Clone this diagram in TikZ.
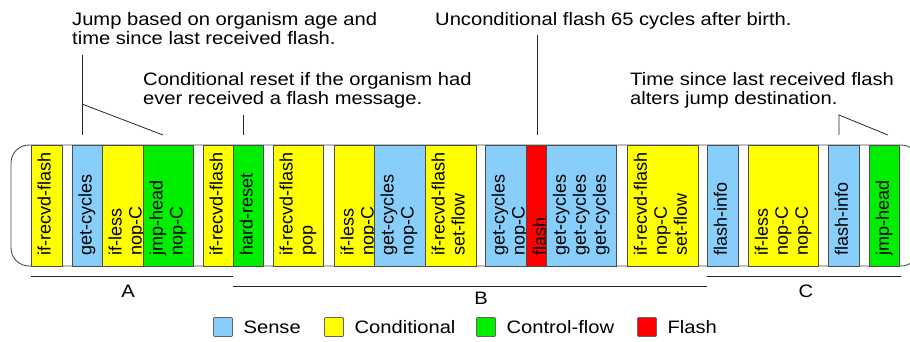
\documentclass[tikz,border=0pt]{standalone}
\usepackage{fontspec}
\setmainfont{Liberation Sans}
\newfontfamily\widesans[FakeStretch=1.12]{Liberation Sans}
\usetikzlibrary{positioning}

\definecolor{sense}{RGB}{135,206,250}
\definecolor{conditional}{RGB}{255,255,0}
\definecolor{controlflow}{RGB}{0,238,0}
\definecolor{flashred}{RGB}{255,0,0}

\begin{document}
\begin{tikzpicture}[x=1pt, y=-1pt,
    instr/.style={draw=black!70, line width=0.9pt, fill=#1, minimum height=121pt,
      inner sep=0pt, outer sep=0pt, anchor=north west},
    instrtext/.style={rotate=90, anchor=north west, inner sep=0pt, align=left,
      font=\fontsize{18}{20}\selectfont},
    note/.style={anchor=north west, inner sep=0pt, align=left,
      font=\widesans\fontsize{18}{19}\selectfont},
    swatch/.style={draw=black!60, line width=0.8pt, fill=#1, minimum size=19pt,
      inner sep=0pt, rounded corners=1pt},
    legend/.style={inner sep=0pt, font=\widesans\fontsize{18}{19}\selectfont},
    callout/.style={black!85, line width=0.8pt}]
  \useasboundingbox (0,0) rectangle (910,341);

  % genome strip
  \draw[black!70, line width=0.9pt, rounded corners=18pt] (11,145) rectangle (919,266);

  \foreach \x/\w/\c/\t [count=\i] in {
      31/31/conditional/{if-recvd-flash},
      72/30/sense/{get-cycles},
      102/41/conditional/{if-less\\nop-C},
      143/50/controlflow/{jmp-head\\nop-C},
      203/30/conditional/{if-recvd-flash},
      233/30/controlflow/{hard-reset},
      273/50/conditional/{if-recvd-flash\\pop},
      334/40/conditional/{if-less\\nop-C},
      374/51/sense/{get-cycles\\nop-C},
      425/51/conditional/{if-recvd-flash\\set-flow},
      485/41/sense/{get-cycles\\nop-C},
      526/20/flashred/{flash},
      546/70/sense/{get-cycles\\get-cycles\\get-cycles},
      627/71/conditional/{if-recvd-flash\\nop-C\\set-flow},
      707/31/sense/{flash-info},
      748/70/conditional/{if-less\\nop-C\\nop-C},
      828/31/sense/{flash-info},
      869/30/controlflow/{jmp-head}} {
    \node[instr=\c, minimum width=\w pt] (i-\i) at (\x,145) {};
    \node[instrtext] (t-\i) at ([xshift=6.5pt, yshift=10pt]i-\i.south west) {\t};
  }

  % callouts
  \node[note] (jump) at (72,12) {Jump based on organism age and\\time since last received flash.};
  \node[note] (reset) at (143,72) {Conditional reset if the organism had\\ever received a flash message.};
  \node[note] (birth) at (435,12) {Unconditional flash 65 cycles after birth.};
  \node[note] (alter) at (630,72) {Time since last received flash\\alters jump destination.};

  \coordinate (jump-a) at (82,55);
  \coordinate (jump-b) at (82,104);
  \coordinate (jump-c) at (82,135);
  \coordinate (jump-d) at (163,135);
  \draw[callout] (jump-a) -- (jump-c);
  \draw[callout] (jump-b) -- (jump-d);

  \coordinate (reset-a) at (243,115);
  \coordinate (reset-b) at (243,135);
  \draw[callout] (reset-a) -- (reset-b);

  \coordinate (birth-a) at (537,35);
  \coordinate (birth-b) at (537,135);
  \draw[callout] (birth-a) -- (birth-b);

  \coordinate (alter-a) at (839,135);
  \coordinate (alter-b) at (839,115);
  \coordinate (alter-c) at (888,135);
  \draw[callout] (alter-a) -- (alter-b) -- (alter-c);

  % groups
  \draw[callout] ([yshift=-10pt]i-1.south west) -- ([yshift=-10pt]i-6.south west);
  \draw[callout] ([yshift=-20pt]i-6.south west) -- ([yshift=-20pt]i-15.south west);
  \draw[callout] ([yshift=-10pt]i-15.south west) -- ([yshift=-10pt, xshift=2pt]i-18.south east);
  \node[legend] (grp-a) at (128,291) {A};
  \node[legend] (grp-b) at (481,298) {B};
  \node[legend] (grp-c) at (806,291) {C};

  % legend
  \foreach \c/\n/\x [count=\i] in {sense/Sense/223, conditional/Conditional/334,
      controlflow/Control-flow/486, flashred/Flash/647} {
    \node[swatch=\c] (sw-\i) at (\x,327) {};
    \node[legend, right=10.5pt of sw-\i] (lg-\i) {\n};
  }
\end{tikzpicture}
\end{document}
